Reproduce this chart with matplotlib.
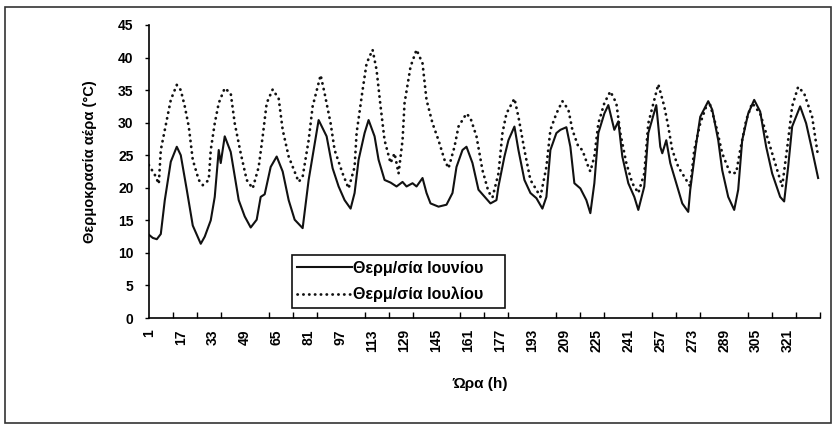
import matplotlib
matplotlib.use('Agg')
import matplotlib.pyplot as plt
from matplotlib.patches import Rectangle

plt.rcParams['font.family'] = ['Liberation Sans', 'DejaVu Sans']
plt.rcParams['font.weight'] = 'bold'

# Θερμοκρασία Ιουνίου (συνεχής γραμμή) - ώρες και τιμές διαβασμένες από το γράφημα
june_hours = [1, 3, 5, 7, 9, 12, 15, 17, 20, 23, 27, 29, 32, 34, 36, 37, 39, 42, 46, 49,
              52, 55, 57, 59, 62, 65, 68, 71, 74, 78, 81, 86, 90, 93, 96, 99, 102, 104, 106, 109,
              111, 114, 116, 119, 122, 125, 128, 130, 133, 135, 138, 140, 142, 146, 150, 153, 155, 158, 160, 163,
              166, 170, 172, 175, 176, 179, 181, 184, 186, 189, 192, 195, 198, 200, 202, 205, 207, 210, 212, 214,
              217, 220, 222, 224, 226, 229, 231, 234, 236, 238, 241, 244, 246, 249, 251, 255, 257, 258, 260, 262,
              265, 268, 271, 272, 275, 277, 281, 283, 286, 288, 291, 294, 296, 298, 301, 304, 307, 310, 313, 317,
              319, 321, 323, 327, 330, 333, 336]
june_temp = [12.8, 12.3, 12.1, 12.9, 18.1, 24.0, 26.3, 25.0, 19.7, 14.2, 11.4, 12.5, 15.0, 18.6, 25.8, 23.8, 27.9, 25.5, 18.1, 15.6,
             13.9, 15.1, 18.6, 19.0, 23.2, 24.8, 22.5, 18.1, 15.1, 13.8, 21.2, 30.4, 27.9, 23.0, 20.2, 18.1, 16.8, 19.2, 24.3, 28.4,
             30.4, 27.9, 24.3, 21.2, 20.8, 20.2, 20.9, 20.2, 20.7, 20.2, 21.5, 19.2, 17.6, 17.1, 17.4, 19.2, 23.2, 25.8, 26.3, 23.8,
             19.7, 18.3, 17.6, 18.1, 20.2, 24.8, 27.3, 29.4, 25.8, 21.2, 19.2, 18.4, 16.8, 18.6, 25.8, 28.4, 28.9, 29.3, 26.3, 20.7,
             19.9, 18.1, 16.1, 20.7, 28.4, 31.4, 32.7, 28.9, 30.2, 24.8, 20.7, 18.6, 16.6, 20.2, 28.4, 32.7, 26.3, 25.3, 27.3, 23.8,
             20.7, 17.6, 16.3, 19.7, 26.8, 30.9, 33.3, 32.0, 27.3, 22.7, 18.6, 16.6, 19.7, 27.3, 31.4, 33.5, 31.7, 26.3, 22.2, 18.6,
             17.9, 23.2, 29.4, 32.5, 29.9, 25.8, 21.5]

# Θερμοκρασία Ιουλίου (διακεκομμένη γραμμή)
july_hours = [1, 4, 6, 7, 9, 12, 15, 17, 19, 21, 23, 26, 28, 31, 32, 34, 36, 39, 42, 44,
              47, 50, 53, 56, 58, 60, 63, 66, 68, 71, 76, 78, 81, 83, 87, 89, 92, 94, 98, 101,
              104, 105, 108, 110, 113, 115, 117, 119, 122, 124, 126, 128, 129, 132, 135, 138, 140, 143, 146, 149,
              151, 154, 156, 160, 162, 165, 168, 171, 173, 176, 178, 180, 184, 186, 189, 192, 195, 197, 200, 202,
              205, 208, 211, 213, 216, 218, 221, 222, 224, 226, 229, 232, 235, 237, 240, 243, 246, 249, 251, 254,
              256, 259, 261, 263, 266, 269, 272, 274, 277, 280, 282, 285, 288, 292, 295, 297, 300, 303, 307, 312,
              315, 318, 321, 323, 326, 329, 333, 336]
july_temp = [23.5, 22.0, 20.6, 25.8, 28.9, 33.5, 35.8, 35.0, 32.5, 29.4, 24.3, 21.2, 20.4, 21.2, 25.8, 29.9, 33.0, 35.3, 34.5, 29.9,
             25.3, 21.2, 19.9, 23.2, 27.9, 33.0, 35.1, 33.7, 28.9, 24.8, 20.9, 21.7, 27.3, 32.5, 37.3, 34.5, 29.9, 25.8, 22.2, 19.9,
             23.2, 28.4, 35.0, 39.1, 41.2, 38.1, 32.5, 27.3, 23.8, 25.3, 22.2, 27.3, 33.0, 38.6, 41.2, 39.1, 33.5, 29.9, 27.3, 24.3,
             23.0, 26.3, 29.4, 31.4, 30.7, 27.9, 22.7, 19.4, 18.5, 22.2, 28.4, 31.4, 33.7, 30.9, 25.8, 21.2, 19.7, 18.6, 23.2, 28.9,
             31.4, 33.3, 32.0, 28.9, 26.3, 25.8, 23.2, 22.5, 24.8, 29.9, 33.0, 34.8, 33.0, 28.4, 23.8, 20.7, 19.2, 22.2, 29.9, 33.5,
             35.9, 32.5, 29.4, 25.8, 23.2, 21.7, 20.2, 25.8, 29.9, 32.5, 32.7, 29.4, 25.3, 22.2, 22.3, 25.8, 30.4, 33.0, 31.4, 26.3,
             23.2, 20.2, 27.3, 32.5, 35.5, 34.5, 30.9, 24.8]

x_labels = list(range(1, 322, 16))
y_ticks = list(range(0, 46, 5))

fig = plt.figure(figsize=(8.36, 4.28), dpi=100)
ax = fig.add_axes([0.178, 0.257, 0.803, 0.6846])

ax.plot(june_hours, june_temp, color='#111111', lw=1.5, label='Θερμ/σία Ιουνίου')
ax.plot(july_hours, july_temp, color='#111111', lw=2.0, linestyle=(0, (0.1, 2.0)),
        dash_capstyle='round', label='Θερμ/σία Ιουλίου')

ax.set_xlim(1, 337)
ax.set_ylim(0, 45)
ax.spines['top'].set_visible(False)
ax.spines['right'].set_visible(False)
ax.spines['left'].set_linewidth(1.2)
ax.spines['bottom'].set_linewidth(1.2)

ax.set_xticks(x_labels)
ax.set_xticklabels([str(v) for v in x_labels], rotation=90, fontsize=10, fontweight='bold')
ax.tick_params(axis='x', which='major', length=0, pad=8)
ax.set_xticks(list(range(13, 338, 12)), minor=True)
ax.tick_params(axis='x', which='minor', direction='in', length=4, width=1)

ax.set_yticks(y_ticks)
ax.set_yticklabels([str(v) for v in y_ticks], fontsize=10, fontweight='bold')
ax.tick_params(axis='y', direction='out', length=3, width=1, pad=8)

ax.set_ylabel('Θερμοκρασία αέρα (°C)', fontsize=10.5, fontweight='bold')
ax.yaxis.set_label_coords(-0.0775, 0.532)
ax.set_xlabel('Ώρα (h)', fontsize=11, fontweight='bold')
ax.xaxis.set_label_coords(0.493, -0.2)

leg = ax.legend(loc='lower left', bbox_to_anchor=(0.213, 0.034, 0.3175, 0.195), mode='expand',
                fancybox=False, framealpha=1, edgecolor='#111111', borderaxespad=0,
                prop={'size': 11.5, 'weight': 'bold'}, handlelength=3.4, handletextpad=0.1,
                labelspacing=0.7, borderpad=0.35)
leg.get_frame().set_linewidth(1.2)

fig.patches.append(Rectangle((0.006, 0.012), 0.988, 0.972, transform=fig.transFigure,
                             fill=False, lw=1.2, ec='#333333'))

plt.savefig('out.png', dpi=100)
